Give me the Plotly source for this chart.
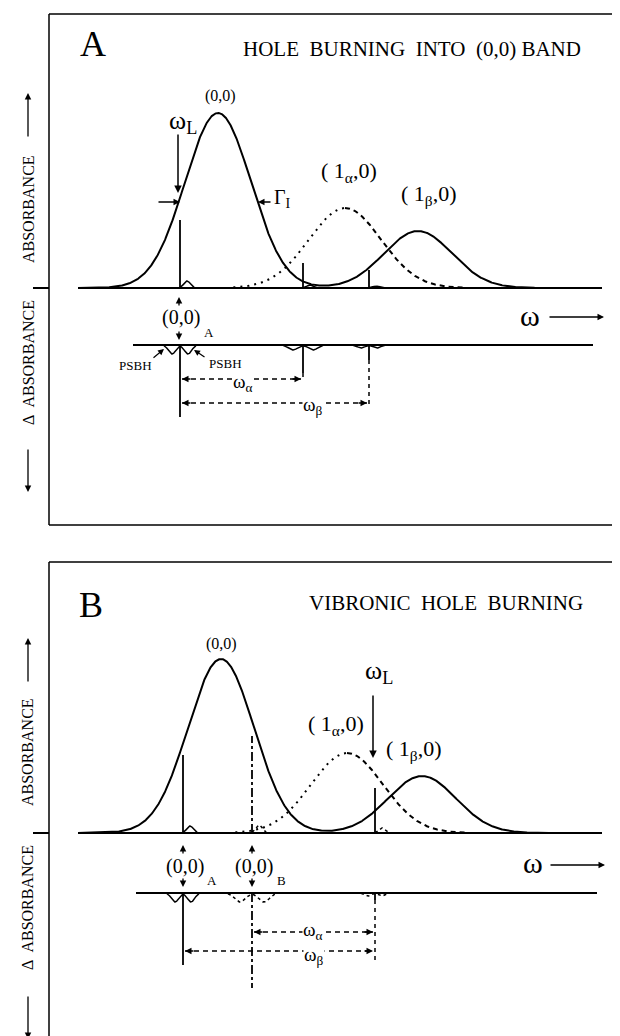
import numpy as np
import plotly.graph_objects as go

FONT = "Liberation Serif, Times New Roman, serif"

# ---------------- data (ω and absorbance in arbitrary units) ----------------
# absorption bands (0,0), (1α,0), (1β,0): centre, height, width (sigma)
bandA_center = [218, 345, 418]
bandA_height = [175, 80, 57]
bandA_sigma = [33, 36, 34]
bandB_center = [221, 347, 422]
bandB_height = [174, 80, 57]
bandB_sigma = [33, 36, 34]

# sharp zero-phonon features on the absorption trace
zplA_pos = [180, 303, 369]
zplA_height = [68, 25, 18]
psbA_height = [7, 3, 2]
zplB_pos = [183, 252, 375]
zplB_height = [78, 97, 45]
psbB_height = [7, 8, 5]

# holes in the Δ-absorbance trace
holeA_depth = [72, 28, 15]
guideA_depth = [72, 34, 63]
psbhA_depth = [9, 5, 3]
psbhA_offset = [8, 10, 8]
holeB_depth = [72, 95, 7]
guideB_depth = [72, 95, 70]
psbhB_depth = [9, 9, 3]
psbhB_offset = [8, 12, 7]

# vibrational spacing arrows (from ZPL index -> ZPL index, level below Δ baseline)
spacingA = [(0, 1, 34, "ω<sub>α</sub>"), (0, 2, 58, "ω<sub>β</sub>")]
spacingB = [(1, 2, 39, "ω<sub>α</sub>"), (0, 2, 58, "ω<sub>β</sub>")]

# layout constants (positions in axis units)
DELTA_A = -57
DELTA_B = -60
BASE_X = (78, 602)

fig = go.Figure()


def gauss(x, c, h, s):
    return h * np.exp(-0.5 * ((x - c) / s) ** 2)


def line(x, y, yaxis, dash="solid", width=2.0):
    fig.add_trace(go.Scatter(x=x, y=y, mode="lines", yaxis=yaxis, xaxis="x",
                             line=dict(color="black", width=width, dash=dash),
                             hoverinfo="skip", showlegend=False))


def panel(yaxis, centers, heights, sigmas, zpos, zh, psb, hdep, gdep, pdep, poff,
          delta, spacings, zstyle, pstyle, lowlim):
    x = np.linspace(BASE_X[0], BASE_X[1], 1400)
    line([BASE_X[0], BASE_X[1]], [0, 0], yaxis, width=2)
    ys = gauss(x, centers[0], heights[0], sigmas[0]) + gauss(x, centers[2], heights[2], sigmas[2])
    line(x, ys, yaxis, width=2)
    c, h, s = centers[1], heights[1], sigmas[1]
    xl = np.linspace(c - 3.1 * s, c, 200)
    xr = np.linspace(c, c + 3.3 * s, 200)
    line(xl, gauss(xl, c, h, s), yaxis, dash="2px,5px", width=2)
    line(xr, gauss(xr, c, h, s), yaxis, dash="5px,4px", width=2)
    for p, hh, b, st, ps in zip(zpos, zh, psb, zstyle, pstyle):
        line([p, p], [0, hh], yaxis, dash=st, width=1.8)
        xb = np.linspace(p, p + 18, 60)
        line(xb, gauss(xb, p + 7, b, 3.2), yaxis, dash=ps, width=1.5)
    line([lowlim[0], lowlim[1]], [delta, delta], yaxis, width=2)
    for p, d, g, pd, po, st, ps in zip(zpos, hdep, gdep, pdep, poff, zstyle, pstyle):
        line([p, p], [delta, delta - d], yaxis, dash=st, width=1.8)
        if g > d:
            line([p, p], [delta - d, delta - g], yaxis, dash="4px,4px", width=1.5)
        xb = np.linspace(p - 2 * po, p + 2 * po, 120)
        sg = po * 0.45
        yb = delta - pd * (np.exp(-0.5 * ((xb - p + po) / sg) ** 2) + np.exp(-0.5 * ((xb - p - po) / sg) ** 2))
        line(xb, yb, yaxis, dash=ps, width=1.5)
    for i, j, lev, lab in spacings:
        line([zpos[i] + 2, zpos[j] - 2], [delta - lev, delta - lev], yaxis, dash="5px,4px", width=1.5)


panel("y", bandA_center, bandA_height, bandA_sigma, zplA_pos, zplA_height, psbA_height,
      holeA_depth, guideA_depth, psbhA_depth, psbhA_offset, DELTA_A, spacingA,
      ["solid", "solid", "solid"], ["solid", "solid", "solid"], (133, 593))
panel("y2", bandB_center, bandB_height, bandB_sigma, zplB_pos, zplB_height, psbB_height,
      holeB_depth, guideB_depth, psbhB_depth, psbhB_offset, DELTA_B, spacingB,
      ["solid", "dashdot", "solid"], ["solid", "dot", "dot"], (136, 597))

ann = []


def txt(x, y, text, size, yref="y", **kw):
    d = dict(x=x, y=y, xref="x", yref=yref, text=text, showarrow=False,
             font=dict(family=FONT, size=size, color="black"))
    d.update(kw)
    ann.append(d)


def arrow(x, y, ax, ay, yref="y", width=1.5, head=2, size=1.0):
    ann.append(dict(x=x, y=y, ax=ax, ay=ay, xref="x", yref=yref, axref="x", ayref=yref,
                    text="", showarrow=True, arrowhead=head, arrowsize=size,
                    arrowwidth=width, arrowcolor="black", standoff=0, startstandoff=0))


shapes = []


def seg(x0, y0, x1, y1, yref, width=1.5):
    shapes.append(dict(type="line", x0=x0, y0=y0, x1=x1, y1=y1, xref="x", yref=yref,
                       line=dict(color="black", width=width)))


# ---------------- panel A decorations ----------------
seg(49, 274, 640, 274, "y")
seg(49, 274, 49, -237, "y")
seg(49, -237, 640, -237, "y")
seg(33, 0, 49, 0, "y", 2)
txt(93, 244, "A", 36)
txt(583, 239, "HOLE  BURNING  INTO  (0,0) BAND", 21, xanchor="right")
txt(220, 192, "(0,0)", 16)
txt(183, 166, "ω<sub>L</sub>", 26)
arrow(178, 95, 178, 155)
arrow(180, 86, 157, 86, head=2, width=1.3)
arrow(258, 86, 272, 86, head=2, width=1.3)
txt(282, 90, "Γ<sub>I</sub>", 20)
txt(349, 116, "( 1<sub>α</sub>,0)", 22)
txt(429, 93, "( 1<sub>β</sub>,0)", 22)
txt(530, -27, "ω", 30)
arrow(604, -29, 548, -29, width=1.3)
txt(181, -29, "(0,0)", 20)
txt(209, -44, "A", 13)
arrow(179, -9, 179, -19, width=1.3)
arrow(179, -52, 179, -42, width=1.3)
txt(135, -77, "PSBH", 13)
arrow(164, -61, 152, -71, width=1.2)
txt(225, -75, "PSBH", 13)
arrow(194, -62, 206, -70, width=1.2)
for i, j, lev, lab in spacingA:
    arrow(zplA_pos[i] + 2, DELTA_A - lev, zplA_pos[i] + 12, DELTA_A - lev, width=1.3)
    arrow(zplA_pos[j] - 2, DELTA_A - lev, zplA_pos[j] - 12, DELTA_A - lev, width=1.3)
txt(243, DELTA_A - spacingA[0][2] - 4, spacingA[0][3], 19, bgcolor="white", borderpad=0)
txt(313, DELTA_A - spacingA[1][2] - 3, spacingA[1][3], 19, bgcolor="white", borderpad=0)
txt(28, 79, "ABSORBANCE", 16, textangle=-90)
arrow(28, 195, 28, 150, width=1.3)
txt(28, -75, "Δ  ABSORBANCE", 16, textangle=-90)
arrow(28, -204, 28, -160, width=1.3)

# ---------------- panel B decorations ----------------
seg(49, 271, 640, 271, "y2")
seg(49, 271, 49, -220, "y2")
seg(33, 0, 49, 0, "y2", 2)
txt(91, 228, "B", 36, yref="y2")
txt(585, 230, "VIBRONIC  HOLE  BURNING", 21, yref="y2", xanchor="right")
txt(221, 189, "(0,0)", 16, yref="y2")
txt(379, 161, "ω<sub>L</sub>", 26, yref="y2")
arrow(373, 75, 373, 139, yref="y2")
txt(336, 108, "( 1<sub>α</sub>,0)", 22, yref="y2")
txt(414, 83, "( 1<sub>β</sub>,0)", 22, yref="y2")
txt(533, -30, "ω", 30, yref="y2")
arrow(605, -32, 549, -32, yref="y2", width=1.3)
for k, sub in zip([0, 1], ["A", "B"]):
    p = zplB_pos[k]
    txt(p + 2, -34, "(0,0)", 20, yref="y2")
    txt(p + 29, -48, sub, 13, yref="y2")
    arrow(p, -12, p, -22, yref="y2", width=1.3)
    arrow(p, -54, p, -44, yref="y2", width=1.3)
for i, j, lev, lab in spacingB:
    arrow(zplB_pos[i] + 2, DELTA_B - lev, zplB_pos[i] + 12, DELTA_B - lev, yref="y2", width=1.3)
    arrow(zplB_pos[j] - 2, DELTA_B - lev, zplB_pos[j] - 12, DELTA_B - lev, yref="y2", width=1.3)
txt(313, DELTA_B - spacingB[0][2] + 1, spacingB[0][3], 19, yref="y2", bgcolor="white", borderpad=0)
txt(314, DELTA_B - spacingB[1][2] - 5, spacingB[1][3], 19, yref="y2", bgcolor="white", borderpad=0)
txt(28, 81, "ABSORBANCE", 16, yref="y2", textangle=-90)
arrow(28, 195, 28, 150, yref="y2", width=1.3)
txt(28, -75, "Δ  ABSORBANCE", 16, yref="y2", textangle=-90)
arrow(28, -206, 28, -162, yref="y2", width=1.3)

# the page body has an 8px margin: the figure covers reference pixels 8..620 x 8..1036
W, H = 612, 1028
fig.update_layout(
    width=W, height=H, margin=dict(l=0, r=0, t=0, b=0),
    paper_bgcolor="white", plot_bgcolor="white", showlegend=False,
    xaxis=dict(range=[8, 620], domain=[0, 1], visible=False, fixedrange=True),
    yaxis=dict(range=[-257, 280], domain=[491 / H, 1], visible=False, fixedrange=True),
    yaxis2=dict(range=[-203, 288], domain=[0, 491 / H], visible=False, fixedrange=True, anchor="x"),
    annotations=ann, shapes=shapes,
)
fig.write_html("out.html")
